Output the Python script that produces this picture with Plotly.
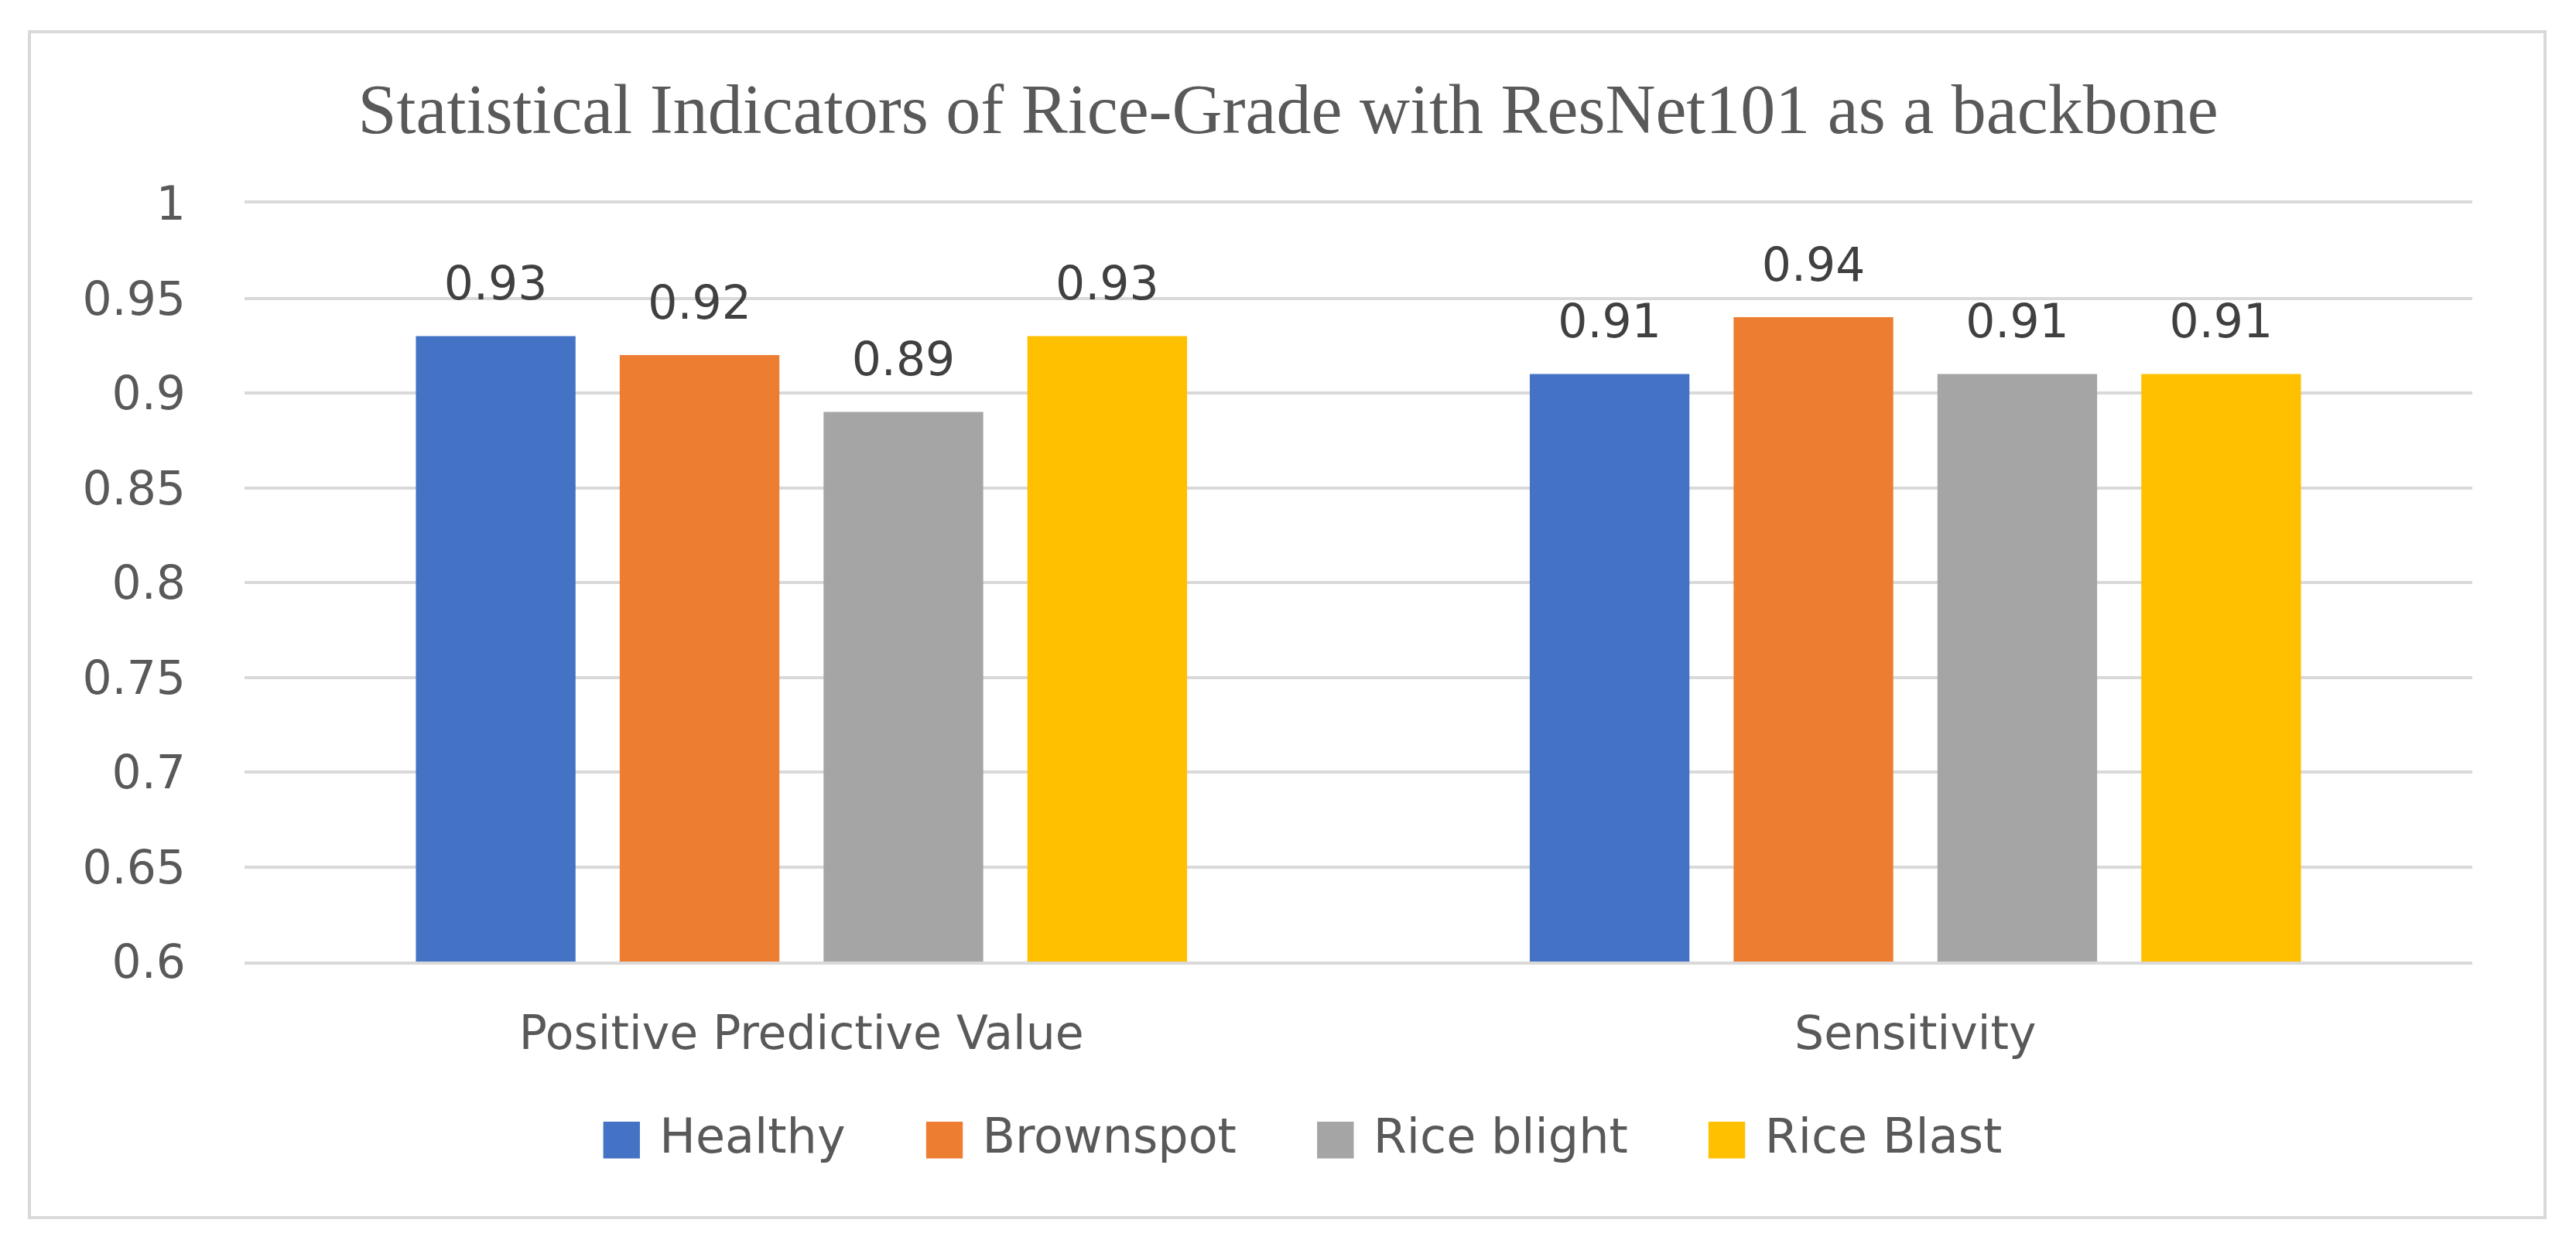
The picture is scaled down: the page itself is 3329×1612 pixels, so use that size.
import plotly.graph_objects as go

categories = ["Positive Predictive Value", "Sensitivity"]
series_names = ["Healthy", "Brownspot", "Rice blight", "Rice Blast"]
healthy = [0.93, 0.91]
brownspot = [0.92, 0.94]
rice_blight = [0.89, 0.91]
rice_blast = [0.93, 0.91]
series_values = [healthy, brownspot, rice_blight, rice_blast]
colors = ["#4472C4", "#ED7D31", "#A5A5A5", "#FFC000"]
y_ticks = [0.6, 0.65, 0.7, 0.75, 0.8, 0.85, 0.9, 0.95, 1]
y_tick_labels = ["0.6", "0.65", "0.7", "0.75", "0.8", "0.85", "0.9", "0.95", "1"]
title_text = "Statistical Indicators of Rice-Grade with ResNet101 as a backbone"

W, H = 3329, 1612
L, R, T, B = 316, 134, 263, 369
PW, PH = W - L - R, H - T - B

FS = 60
GAP = 0.268

fig = go.Figure()
for name, vals, col in zip(series_names, series_values, colors):
    fig.add_trace(go.Bar(
        x=categories, y=vals, name=name, marker=dict(color=col, line=dict(width=0)),
        showlegend=False, hoverinfo="skip",
    ))
for name, vals, col in zip(series_names, series_values, colors):
    fig.add_trace(go.Scatter(
        x=categories, y=vals, mode="markers+text", text=[f"{v:.2f}" for v in vals],
        textposition="top center", textfont=dict(family="DejaVu Sans", size=FS, color="#404040"),
        marker=dict(size=50, opacity=0, color=col), showlegend=False, hoverinfo="skip",
        cliponaxis=False,
    ))

def px_to_paper_x(px):
    return (px - L) / PW

def px_to_paper_y(py):
    return (H - B - py) / PH

legend_parts = []
for name, col in zip(series_names, colors):
    legend_parts.append(f"<span style='color:{col}'>■</span> {name}")
legend_text = "     ".join(legend_parts)

fig.update_layout(
    width=W, height=H,
    margin=dict(l=L, r=R, t=T, b=B, pad=0),
    paper_bgcolor="white", plot_bgcolor="white",
    barmode="group", bargap=GAP, bargroupgap=0.2167,
    scattermode="group", scattergap=GAP,
    font=dict(family="DejaVu Sans", size=FS, color="#595959"),
    title=dict(text=title_text, x=0.5, xanchor="center", xref="container",
               y=1 - 140 / H, yanchor="middle",
               font=dict(family="Liberation Serif", size=90, color="#595959")),
    xaxis=dict(type="category", showgrid=False, showline=True, mirror=True,
               linecolor="#D9D9D9", linewidth=4, ticks="",
               tickfont=dict(family="DejaVu Sans", size=FS, color="#595959"),
               ticklabelstandoff=37, zeroline=False),
    yaxis=dict(range=[0.6, 1.0], tickvals=y_ticks, ticktext=y_tick_labels,
               showgrid=True, gridcolor="#D9D9D9", gridwidth=4, zeroline=False,
               showline=False, ticks="", ticklabelstandoff=75,
               tickfont=dict(family="DejaVu Sans", size=FS, color="#595959")),
    shapes=[dict(type="rect", xref="paper", yref="paper",
                 x0=px_to_paper_x(38), x1=px_to_paper_x(3289),
                 y0=px_to_paper_y(1574), y1=px_to_paper_y(41),
                 line=dict(color="#D9D9D9", width=4), fillcolor="rgba(0,0,0,0)", layer="below")],
    annotations=[dict(text=legend_text, xref="paper", yref="paper",
                      x=px_to_paper_x(1680), y=px_to_paper_y(1468),
                      xanchor="center", yanchor="middle", showarrow=False,
                      font=dict(family="DejaVu Sans", size=62, color="#595959"))],
)

fig.write_html("out.html", config={"displayModeBar": False},
               post_script="document.body.style.margin='0';")
